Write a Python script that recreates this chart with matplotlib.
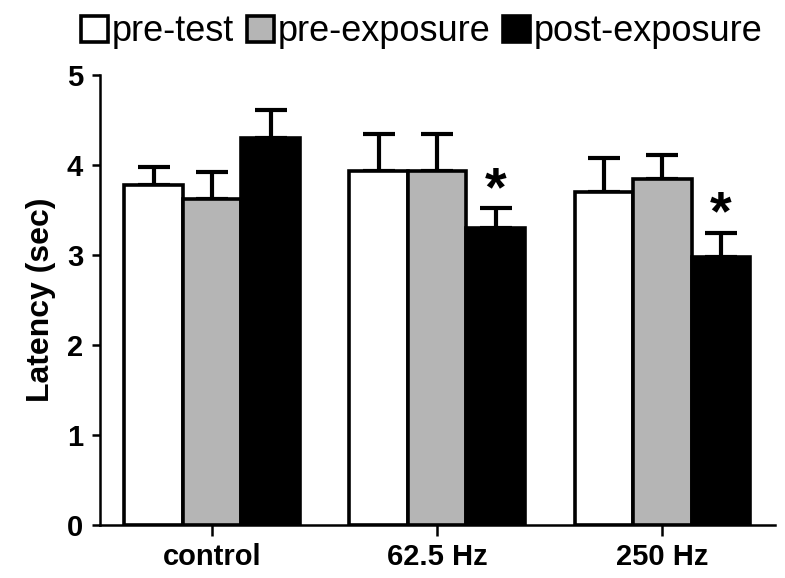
import matplotlib
matplotlib.use("Agg")
import matplotlib.pyplot as plt
import numpy as np

groups = ["control", "62.5 Hz", "250 Hz"]
series = ["pre-test", "pre-exposure", "post-exposure"]
means = {
    "pre-test": [3.78, 3.93, 3.70],
    "pre-exposure": [3.62, 3.93, 3.85],
    "post-exposure": [4.30, 3.30, 2.98],
}
sems = {
    "pre-test": [0.20, 0.42, 0.38],
    "pre-exposure": [0.30, 0.42, 0.26],
    "post-exposure": [0.31, 0.22, 0.27],
}
significant = {"post-exposure": [False, True, True]}
colors = {"pre-test": "white", "pre-exposure": "#b5b5b5", "post-exposure": "black"}

plt.rcParams['font.family'] = ['Liberation Sans', 'DejaVu Sans']

fig = plt.figure(figsize=(7.85, 5.78), dpi=100)
ax = fig.add_axes([0.127, 0.092, 0.86, 0.778])

x = np.arange(len(groups))
width = 0.26
handles = []
for i, s in enumerate(series):
    pos = x + (i - 1) * width
    ax.errorbar(pos, means[s], yerr=[np.zeros(len(groups)), sems[s]], fmt='none',
                ecolor='black', elinewidth=3, capsize=11.5, capthick=3, zorder=1)
    b = ax.bar(pos, means[s], width=width, color=colors[s], edgecolor='black',
               linewidth=2.6, zorder=2, label=s)
    handles.append(b)
    for j, sig in enumerate(significant.get(s, [False] * len(groups))):
        if sig:
            ax.text(pos[j], means[s][j] + sems[s][j] - 0.1, "*", ha='center', va='bottom',
                    fontsize=40, fontweight='bold')

ax.set_xlim(-0.5, 2.5)
ax.set_ylim(0, 5)
ax.set_yticks(range(6))
ax.set_xticks(x)
ax.set_xticklabels(groups, fontsize=21, fontweight='bold')
for lab in ax.get_yticklabels():
    lab.set_fontsize(21)
    lab.set_fontweight('bold')
ax.set_ylabel("Latency (sec)", fontsize=23, fontweight='bold', labelpad=8)
ax.spines['top'].set_visible(False)
ax.spines['right'].set_visible(False)
ax.spines['left'].set_linewidth(1.8)
ax.spines['bottom'].set_linewidth(1.8)
ax.tick_params(axis='y', length=6, width=1.8, pad=6)
ax.tick_params(axis='x', length=8, width=1.8, pad=5)

fig.legend(handles, series, loc='upper left', bbox_to_anchor=(0.085, 1.0), ncol=3,
           frameon=False, fontsize=26, handlelength=0.75, handleheight=0.75,
           handletextpad=0.1, columnspacing=0.35, borderaxespad=0)

fig.savefig("out.png", dpi=100)
